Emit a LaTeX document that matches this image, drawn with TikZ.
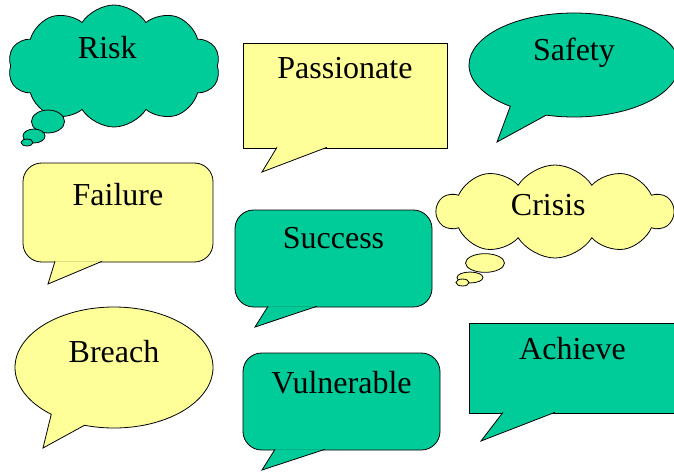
\documentclass[tikz,border=0pt]{standalone}
\usepackage{fontspec}
\setmainfont{Liberation Serif}
\usetikzlibrary{shapes.callouts, shapes.symbols}

\definecolor{calloutgreen}{HTML}{00CC99}
\definecolor{calloutyellow}{HTML}{FFFF99}

\begin{document}
\begin{tikzpicture}[
        x=0.75pt, y=-0.75pt,
        bubble/.style={draw, line width=0.6pt, inner sep=0pt},
        gfill/.style={fill=calloutgreen},
        yfill/.style={fill=calloutyellow},
        word/.style={font=\fontsize{24}{28}\selectfont, inner sep=0pt}
        ]
    % Define styles
    \tikzstyle{squarebox} = [bubble, rectangle]
    \tikzstyle{roundbox} = [bubble, rectangle, rounded corners=14pt]
    \tikzstyle{speech} = [bubble, ellipse callout, callout pointer arc=22]
    \tikzstyle{thought} = [bubble, cloud, cloud puffs=10, cloud puff arc=115, cloud ignores aspect]

    \useasboundingbox (0,0) rectangle (674,472);

    % Top row
    \node[thought, gfill, minimum width=159pt, minimum height=91.5pt,
          label={[word, xshift=-5pt, yshift=13.5pt]center:Risk}] (risk) at (114,66) {};
    \node[squarebox, yfill, minimum width=153pt, minimum height=78.75pt,
          label={[word, yshift=20.6pt]center:Passionate}] (passionate) at (345,95.5) {};
    \node[speech, gfill, minimum width=157.5pt, minimum height=78pt,
          callout absolute pointer={(497,142)},
          label={[word, yshift=9pt]center:Safety}] (safety) at (574,65) {};

    % Middle row
    \node[roundbox, yfill, minimum width=142.5pt, minimum height=74.25pt,
          label={[word, yshift=13.1pt]center:Failure}] (failure) at (118,212.5) {};
    \node[roundbox, gfill, minimum width=147.75pt, minimum height=72.75pt,
          label={[word, yshift=15.4pt]center:Success}] (success) at (333.5,258.5) {};
    \node[thought, yfill, minimum width=177pt, minimum height=69.75pt,
          label={[word, xshift=-5pt, yshift=4.9pt]center:Crisis}] (crisis) at (555,211.5) {};

    % Bottom row
    \node[speech, yfill, minimum width=148.5pt, minimum height=90.75pt,
          callout absolute pointer={(43,448)},
          label={[word, yshift=11.6pt]center:Breach}] (breach) at (114,367.5) {};
    \node[roundbox, gfill, minimum width=147.75pt, minimum height=72.75pt,
          label={[word, yshift=13.9pt]center:Vulnerable}] (vulnerable) at (341.5,401.5) {};
    \node[squarebox, gfill, minimum width=155.25pt, minimum height=67.5pt,
          label={[word, yshift=14.25pt]center:Achieve}] (achieve) at (572.5,368) {};

    % Draw the pointers of the boxes
    \draw[bubble, yfill] (277,147.3) -- (262,172) -- (327,147.3);
    \draw[bubble, yfill] (55,261.3) -- (48,284) -- (102,261.3);
    \draw[bubble, gfill] (268,306.3) -- (255,327) -- (317,306.3);
    \draw[bubble, gfill] (275,449.3) -- (262,470) -- (325,449.3);
    \draw[bubble, gfill] (503,412.3) -- (481,441) -- (555,412.3);

    % Draw the puffs of the clouds
    \path[bubble, gfill] (48,121.5) ellipse [x radius=12.4pt, y radius=8.6pt];
    \path[bubble, gfill] (34,136) ellipse [x radius=8.25pt, y radius=5.25pt];
    \path[bubble, gfill] (27,142.5) ellipse [x radius=4.5pt, y radius=2.6pt];
    \path[bubble, yfill] (485,263) ellipse [x radius=14.6pt, y radius=7pt];
    \path[bubble, yfill] (470,277.5) ellipse [x radius=9.75pt, y radius=4.1pt];
    \path[bubble, yfill] (462.5,282.5) ellipse [x radius=4.9pt, y radius=2.6pt];

\end{tikzpicture}
\end{document}
